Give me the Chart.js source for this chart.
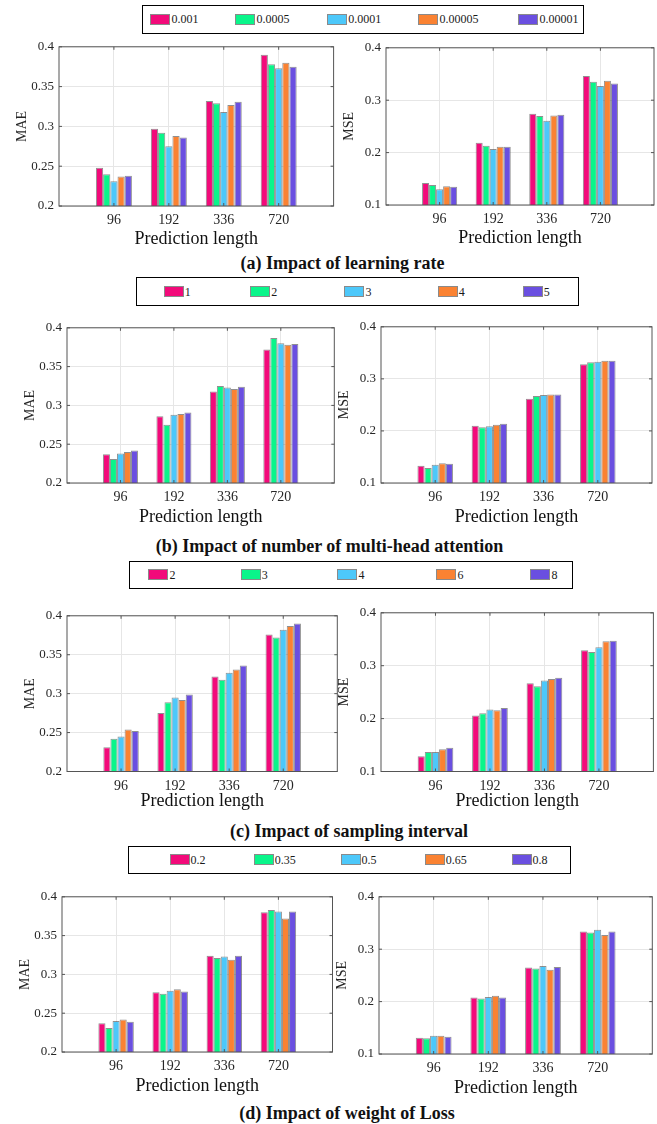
<!DOCTYPE html>
<html>
<head>
<meta charset="utf-8">
<script src="https://cdn.jsdelivr.net/npm/chart.js@4.4.1/dist/chart.umd.min.js"></script>
<style>
  html, body { margin: 0; padding: 0; background: #fff; }
  body { width: 657px; height: 1124px; position: relative; overflow: hidden;
         font-family: "Liberation Serif", "Times New Roman", serif; }
  canvas { position: absolute; }
  .legend { position: absolute; border: 1.5px solid #000; box-sizing: border-box; background: #fff; }
  .item { position: absolute; top: 50%; transform: translateY(-50%); display: flex; align-items: center;
          font-size: 12px; color: #1a1a1a; white-space: nowrap; line-height: 1; }
  .sw { width: 18px; height: 9px; border: 1px solid #8a8a8a; margin-right: 1px; }
  .caption { position: absolute; transform: translate(-50%, -50%); font-weight: bold; font-size: 18px;
             white-space: nowrap; color: #111; }
</style>
</head>
<body>
<script>
// Prediction horizons on the x axis
const categories = ['96', '192', '336', '720'];

// Tick labels for the two metrics
const maeTicks = ['0.2', '0.25', '0.3', '0.35', '0.4'];
const mseTicks = ['0.1', '0.2', '0.3', '0.4'];

// Series names of each sensitivity study
const lrLabels = ['0.001', '0.0005', '0.0001', '0.00005', '0.00001'];
const headLabels = ['1', '2', '3', '4', '5'];
const intervalLabels = ['2', '3', '4', '6', '8'];
const weightLabels = ['0.2', '0.35', '0.5', '0.65', '0.8'];

// One row per series, one value per prediction length
const lrMae = [
  [0.248, 0.297, 0.332, 0.390],
  [0.240, 0.292, 0.329, 0.378],
  [0.231, 0.275, 0.318, 0.373],
  [0.237, 0.288, 0.327, 0.380],
  [0.238, 0.286, 0.331, 0.375]
];
const lrMse = [
  [0.142, 0.219, 0.274, 0.346],
  [0.138, 0.213, 0.270, 0.335],
  [0.130, 0.207, 0.261, 0.327],
  [0.136, 0.211, 0.271, 0.337],
  [0.135, 0.211, 0.272, 0.332]
];
const headMae = [
  [0.237, 0.286, 0.318, 0.372],
  [0.231, 0.275, 0.325, 0.387],
  [0.238, 0.288, 0.323, 0.380],
  [0.240, 0.289, 0.321, 0.378],
  [0.242, 0.291, 0.324, 0.379]
];
const headMse = [
  [0.133, 0.210, 0.262, 0.328],
  [0.129, 0.207, 0.267, 0.332],
  [0.135, 0.209, 0.269, 0.333],
  [0.138, 0.212, 0.270, 0.335],
  [0.137, 0.214, 0.270, 0.335]
];
const intervalMae = [
  [0.231, 0.275, 0.322, 0.376],
  [0.242, 0.289, 0.318, 0.372],
  [0.245, 0.295, 0.327, 0.382],
  [0.254, 0.292, 0.331, 0.387],
  [0.252, 0.299, 0.336, 0.390]
];
const intervalMse = [
  [0.129, 0.206, 0.267, 0.329],
  [0.137, 0.210, 0.261, 0.326],
  [0.137, 0.217, 0.272, 0.335],
  [0.142, 0.216, 0.275, 0.346],
  [0.145, 0.220, 0.277, 0.347]
];
const weightMae = [
  [0.237, 0.277, 0.324, 0.380],
  [0.231, 0.275, 0.321, 0.383],
  [0.240, 0.279, 0.323, 0.381],
  [0.242, 0.281, 0.319, 0.372],
  [0.239, 0.278, 0.324, 0.381]
];
const weightMse = [
  [0.131, 0.208, 0.265, 0.334],
  [0.130, 0.206, 0.263, 0.332],
  [0.135, 0.209, 0.268, 0.337],
  [0.135, 0.211, 0.261, 0.327],
  [0.133, 0.208, 0.266, 0.334]
];

const seriesColors = ['#f20a7a', '#0af58a', '#4dc8fa', '#fa8232', '#6a4fe0'];
const FONT = '"Liberation Serif", "Times New Roman", serif';

// Page layout of the four panels (plot areas, legend boxes, captions)
const panels = [
  { names: lrLabels, mae: lrMae, mse: lrMse, caption: '(a) Impact of learning rate',
    legend: { x: 141.7, y: 5, w: 442.3, h: 28.7, items: [151, 236, 327.7, 419, 519] },
    left: { x: 58.7, y: 42.3, w: 274.6, h: 163.7 }, right: { x: 385.7, y: 43.3, w: 268, h: 162.4 },
    xH: 44, capX: 342.5, capY: 262.7 },
  { names: headLabels, mae: headMae, mse: headMse, caption: '(b) Impact of number of multi-head attention',
    legend: { x: 136.3, y: 277.3, w: 442.4, h: 28.7, items: [164.3, 250.7, 345, 438.3, 523.3] },
    left: { x: 66.7, y: 322.7, w: 267.3, h: 159.6 }, right: { x: 381, y: 321.7, w: 271, h: 161.3 },
    xH: 45, capX: 329.5, capY: 546 },
  { names: intervalLabels, mae: intervalMae, mse: intervalMse, caption: '(c) Impact of sampling interval',
    legend: { x: 129.3, y: 560.7, w: 443.4, h: 28.3, items: [149, 241.3, 338, 437, 531] },
    left: { x: 66.7, y: 611, w: 270.3, h: 160.3 }, right: { x: 381.3, y: 608.3, w: 272.4, h: 163 },
    xH: 40.5, capX: 349, capY: 831 },
  { names: weightLabels, mae: weightMae, mse: weightMse, caption: '(d) Impact of weight of Loss',
    legend: { x: 128, y: 845.7, w: 443.3, h: 28.3, items: [170, 254.3, 341, 425.3, 512] },
    left: { x: 62, y: 891.7, w: 270.5, h: 160.3 }, right: { x: 378.7, y: 891.7, w: 273.3, h: 161.6 },
    xH: 45, capX: 347, capY: 1112.7 }
];

// Box around the plot area with short inward tick marks on all four sides
const framePlugin = {
  id: 'frame',
  afterDraw(chart) {
    const { ctx, chartArea: { left, top, right, bottom }, scales: { x, y } } = chart;
    ctx.save();
    ctx.strokeStyle = '#555';
    ctx.lineWidth = 1;
    ctx.strokeRect(left, top, right - left, bottom - top);
    const t = 3;
    ctx.beginPath();
    y.ticks.forEach(tk => {
      const py = y.getPixelForValue(tk.value);
      ctx.moveTo(left, py); ctx.lineTo(left + t, py);
      ctx.moveTo(right, py); ctx.lineTo(right - t, py);
    });
    x.ticks.forEach(tk => {
      const px = x.getPixelForValue(tk.value);
      ctx.moveTo(px, bottom); ctx.lineTo(px, bottom - t);
      ctx.moveTo(px, top); ctx.lineTo(px, top + t);
    });
    ctx.stroke();
    ctx.restore();
  }
};

const Y_W = 45, PAD_T = 8, PAD_R = 6;

function makeChart(area, xH, metric, rows, names, tickLabels) {
  const cv = document.createElement('canvas');
  const left = Math.round(area.x - Y_W);
  const top = Math.round(area.y - PAD_T);
  const cw = Math.round(area.w + Y_W + PAD_R);
  const ch = Math.round(area.h + PAD_T + xH);
  cv.width = cw; cv.height = ch;
  cv.style.left = left + 'px'; cv.style.top = top + 'px';
  document.body.appendChild(cv);

  const tickVals = tickLabels.map(parseFloat);
  const datasets = rows.map((vals, s) => ({
    label: names[s],
    data: vals.map((v, i) => ({ x: i + 1, y: v })),
    backgroundColor: seriesColors[s],
    borderColor: 'rgba(70,70,70,0.6)',
    borderWidth: 1,
    categoryPercentage: 0.655,
    barPercentage: 1
  }));

  new Chart(cv, {
    type: 'bar',
    data: { datasets },
    plugins: [framePlugin],
    options: {
      responsive: false,
      animation: false,
      layout: { padding: { left: 0, top: PAD_T, right: cw - area.w - Y_W, bottom: 0 } },
      plugins: { legend: { display: false }, tooltip: { enabled: false } },
      scales: {
        x: {
          type: 'linear', min: 0, max: 5, offset: false,
          afterBuildTicks: s => { s.ticks = categories.map((c, i) => ({ value: i + 1 })); },
          ticks: { callback: (v, i) => categories[i], font: { family: FONT, size: 14 }, color: '#262626',
                   padding: 6, maxRotation: 0, autoSkip: false },
          grid: { color: '#e6e6e6', drawTicks: false, offset: false },
          border: { display: false },
          title: { display: true, text: 'Prediction length', font: { family: FONT, size: 18 },
                   color: '#111', padding: 0 },
          afterFit: s => { s.height = xH; }
        },
        y: {
          min: tickVals[0], max: tickVals[tickVals.length - 1],
          afterBuildTicks: s => { s.ticks = tickVals.map(v => ({ value: v })); },
          ticks: { callback: (v, i) => tickLabels[i], font: { family: FONT, size: 13 }, color: '#262626',
                   padding: 5 },
          grid: { color: '#e6e6e6', drawTicks: false },
          border: { display: false },
          title: { display: true, text: metric, font: { family: FONT, size: 14 }, color: '#262626', padding: 0 },
          afterFit: s => { s.width = Y_W; }
        }
      }
    }
  });
}

function makeLegend(cfg, names) {
  const box = document.createElement('div');
  box.className = 'legend';
  Object.assign(box.style, { left: cfg.x + 'px', top: cfg.y + 'px', width: cfg.w + 'px', height: cfg.h + 'px' });
  names.forEach((n, s) => {
    const it = document.createElement('div');
    it.className = 'item';
    it.style.left = (cfg.items[s] - cfg.x - 1.5) + 'px';
    const sw = document.createElement('span');
    sw.className = 'sw';
    sw.style.background = seriesColors[s];
    const tx = document.createElement('span');
    tx.textContent = n;
    it.appendChild(sw); it.appendChild(tx);
    box.appendChild(it);
  });
  document.body.appendChild(box);
}

panels.forEach(p => {
  makeLegend(p.legend, p.names);
  makeChart(p.left, p.xH, 'MAE', p.mae, p.names, maeTicks);
  makeChart(p.right, p.xH, 'MSE', p.mse, p.names, mseTicks);
  const cap = document.createElement('div');
  cap.className = 'caption';
  cap.textContent = p.caption;
  cap.style.left = p.capX + 'px';
  cap.style.top = p.capY + 'px';
  document.body.appendChild(cap);
});
</script>
</body>
</html>
